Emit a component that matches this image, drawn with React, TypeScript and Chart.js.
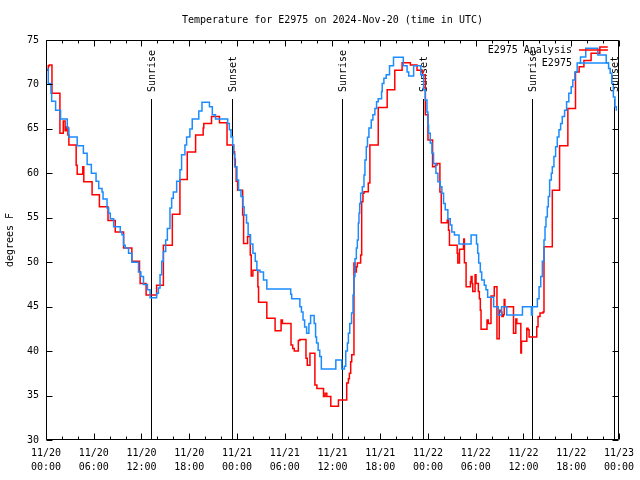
import React, { useEffect, useRef } from "react";
import { Chart, registerables } from "chart.js";

Chart.register(...registerables);

// ---------- data ----------
const titleText = "Temperature for E2975 on 2024-Nov-20 (time in UTC)";
const yAxisTitle = "degrees F";

const xTickHours = [0, 6, 12, 18, 24, 30, 36, 42, 48, 54, 60, 66, 72];
const xTickDates = ["11/20", "11/20", "11/20", "11/20", "11/21", "11/21", "11/21", "11/21", "11/22", "11/22", "11/22", "11/22", "11/23"];
const xTickTimes = ["00:00", "06:00", "12:00", "18:00", "00:00", "06:00", "12:00", "18:00", "00:00", "06:00", "12:00", "18:00", "00:00"];
const yTicks = [30, 35, 40, 45, 50, 55, 60, 65, 70, 75];

const sunLabels = ["Sunrise", "Sunset", "Sunrise", "Sunset", "Sunrise", "Sunset"];
const sunHours = [13.2, 23.42, 37.17, 47.375, 61.04, 71.33];

// E2975 observations (blue), hours since 11/20 00:00 UTC
const obsHours = [
  0, 0.29, 0.625, 0.71, 1.21, 1.83, 2.67, 2.875, 3.92, 4.7, 5.17, 5.7, 6.29, 6.625, 7.04, 7.17, 7.67, 7.875, 8.08, 8.5,
  9.33, 9.54, 9.75, 9.96, 10.375, 10.79, 11.625, 11.92, 12.25, 12.75, 13.08, 13.9, 14.125, 14.33, 14.54, 14.75, 15.04,
  15.25, 15.58, 15.79, 16.0, 16.42, 16.83, 17.04, 17.46, 17.67, 18.08, 18.375, 19.2, 19.6, 20.54, 20.9, 21.3, 22.83,
  23.04, 23.25, 23.46, 23.58, 23.7, 24.0, 24.2, 24.5, 24.75, 24.9, 25.2, 25.4, 25.7, 26.0, 26.3, 26.5, 26.9, 27.33,
  27.75, 30.75, 30.875, 31.9, 32.1, 32.3, 32.5, 32.75, 33.04, 33.25, 33.7, 33.875, 34.0, 34.2, 34.4, 34.6, 36.42,
  37.17, 37.5, 37.67, 37.875, 38.0, 38.17, 38.4, 38.58, 38.7, 38.83, 39.0, 39.125, 39.25, 39.33, 39.42, 39.54, 39.75,
  39.96, 40.08, 40.25, 40.4, 40.58, 40.875, 41.08, 41.33, 41.54, 41.75, 42.17, 42.25, 42.46, 42.75, 43.17, 43.67,
  44.9, 45.375, 45.58, 46.2, 47.1, 47.46, 47.67, 47.875, 48.0, 48.08, 48.29, 48.5, 48.7, 49.0, 49.25, 49.54, 49.75,
  49.96, 50.17, 50.5, 50.8, 51.0, 51.33, 51.9, 53.42, 54.1, 54.25, 54.375, 54.58, 54.75, 55.08, 55.29, 55.5, 56.25,
  56.83, 57.25, 57.9, 59.875, 61.0, 61.125, 61.75, 61.96, 62.17, 62.375, 62.58, 62.71, 62.83, 63.0, 63.125, 63.29,
  63.5, 63.625, 63.83, 64.04, 64.25, 64.46, 64.67, 64.875, 65.17, 65.42, 65.7, 66.0, 66.2, 66.46, 66.75, 67.17, 67.83,
  69.35, 70.4, 70.7, 70.9, 71.1, 71.3, 71.5, 71.67,
];
const obsTemps = [
  71.7, 70.1, 69.0, 68.1, 67.1, 66.1, 65.1, 64.1, 63.1, 62.25, 61.0, 60.0, 59.1, 58.3, 57.9, 57.1, 56.1, 55.5, 54.9, 54.0,
  53.4, 53.1, 51.9, 51.6, 51.0, 50.0, 48.9, 48.4, 47.5, 46.9, 46.0, 46.5, 47.1, 48.6, 50.1, 51.2, 52.5,
  53.8, 56.1, 57.2, 57.9, 59.1, 60.4, 62.1, 63.2, 64.1, 65.0, 66.1, 67.0, 68.0, 67.5, 66.6, 66.1, 65.6,
  64.9, 64.1, 63.2, 62.2, 60.75, 59.25, 58.1, 57.4, 56.25, 55.3, 54.4, 53.1, 52.05, 51.0, 50.1, 49.1, 48.9, 48.0,
  47.0, 46.4, 45.9, 45.0, 44.4, 43.5, 42.7, 42.0, 43.1, 44.0, 43.1, 41.6, 40.9, 40.1, 39.4, 38.0, 39.0,
  38.0, 38.3, 40.0, 40.9, 42.0, 43.1, 44.3, 46.3, 48.4, 50.4, 51.6, 52.5, 54.4, 55.5, 56.6, 57.75, 58.5,
  59.8, 61.5, 63.0, 64.05, 65.1, 66.0, 66.6, 67.3, 68.06, 68.4, 69.2, 70.1, 70.7, 71.1, 72.1, 73.05,
  72.1, 71.4, 70.95, 72.1, 71.1, 69.4, 68.25, 66.9, 65.4, 64.5, 63.4, 62.25, 61.1, 60.0, 59.06, 58.5, 57.75,
  56.6, 55.9, 54.9, 54.2, 53.4, 53.06, 52.05, 53.06, 52.05, 51.0, 49.9, 48.9, 48.0, 47.4, 46.9, 46.05, 45.0,
  44.06, 45.0, 44.06, 45.0, 44.06, 45.0, 45.9, 47.25, 48.4, 50.1, 52.5, 54.0, 55.1, 56.25, 57.4, 59.25,
  60.0, 60.75, 61.9, 63.0, 64.1, 64.9, 65.6, 66.4, 67.1, 68.06, 69.0, 69.75, 70.5, 71.4, 72.4, 73.1, 74.06,
  73.3, 72.45, 71.8, 71.25, 70.1, 68.6, 67.5, 67.05,
];

// E2975 Analysis (red)
const anaHours = [
  0, 0.29, 0.42, 0.75, 1.75, 2.17, 2.4, 2.55, 2.75, 2.875, 3.79, 3.92, 4.625, 4.75, 5.79, 6.71, 7.79, 8.7, 9.75, 10.79,
  11.75, 11.83, 12.58, 13.9, 14.75, 15.875, 16.83, 17.75, 18.8, 19.75, 19.83, 20.8, 21.8, 22.75, 23.58, 23.7, 23.79,
  23.9, 24.08, 24.71, 24.83, 25.33, 25.67, 25.79, 26.0, 26.625, 26.71, 27.75, 28.79, 29.54, 29.71, 30.79, 31.0, 31.2,
  31.71, 31.9, 32.67, 32.83, 33.17, 33.79, 34.04, 34.875, 35.08, 35.29, 35.79, 36.75, 37.79, 38.0, 38.125, 38.29,
  38.42, 38.7, 38.83, 39.0, 39.125, 39.54, 39.67, 39.83, 39.96, 40.5, 40.7, 41.75, 42.875, 43.83, 44.75, 45.79,
  46.625, 47.33, 47.67, 48.0, 48.58, 48.92, 49.125, 49.5, 49.67, 50.42, 50.58, 50.7, 51.67, 51.75, 51.96, 52.46,
  52.5, 52.58, 52.79, 53.33, 53.42, 53.54, 53.625, 53.92, 54.04, 54.33, 54.46, 54.58, 54.67, 55.42, 55.58, 55.92,
  56.33, 56.67, 56.96, 57.17, 57.29, 57.46, 57.58, 57.67, 58.75, 59.04, 59.17, 59.67, 59.75, 60.42, 60.58, 60.71,
  61.67, 61.83, 62.08, 62.46, 62.58, 63.625, 64.54, 65.58, 66.54, 67.0, 67.6, 68.5, 69.6, 70.6,
];
const anaTemps = [
  71.6, 72.1, 72.2, 69.0, 64.5, 65.9, 64.8, 65.2, 64.3, 63.2, 60.9, 59.9, 60.75, 59.06, 57.6, 56.25, 54.7, 53.4, 51.6, 50.1,
  48.9, 47.6, 46.3, 47.4, 51.9, 55.4, 59.3, 62.4, 64.3, 65.1, 65.6, 66.4, 65.7, 63.2, 62.44, 61.6, 60.75,
  59.1, 58.1, 55.3, 52.1, 52.9, 50.8, 48.45, 49.1, 47.25, 45.5, 43.7, 42.3, 43.5, 43.1, 40.7, 40.3, 40.0,
  41.2, 41.3, 39.2, 38.4, 39.75, 36.2, 35.8, 34.9, 35.25, 34.9, 33.8, 34.5, 36.4, 36.9, 37.5, 38.8,
  39.6, 49.9, 48.9, 49.5, 49.9, 50.8, 56.8, 57.75, 57.94, 58.9, 63.2, 67.4, 69.4, 71.6, 72.45, 72.2,
  71.6, 71.1, 66.6, 63.75, 60.75, 60.9, 61.1, 57.9, 54.45, 54.75, 53.6, 51.9, 51.0, 49.9, 51.45, 52.05,
  52.6, 49.95, 47.25, 47.8, 48.4, 47.6, 46.7, 48.6, 47.6, 46.7, 45.9, 44.6, 42.45, 43.5, 43.1, 46.2,
  47.25, 41.4, 44.6, 44.4, 43.9, 44.1, 45.8, 45.0, 42.0, 43.6, 43.1, 39.8, 41.1, 42.56, 42.4, 41.6,
  42.75, 43.9, 44.3, 44.4, 51.75, 58.1, 63.1, 67.3, 71.4, 72.0, 72.7, 73.5, 74.2, 74.2,
];

// ---------- styles ----------
const FONT = "'DejaVu Sans Mono', monospace";
const RED = "#ff0000";
const BLUE = "#1a8cff";
const SUN_LINE_TOP = 68.4;

const overlayPlugin = {
  id: "gnuplotOverlay",
  beforeDatasetsDraw(chart: any) {
    const { ctx, chartArea } = chart;
    const xs = chart.scales.x;
    const ys = chart.scales.y;
    ctx.save();
    ctx.strokeStyle = "#000";
    ctx.lineWidth = 1;
    ctx.fillStyle = "#000";
    ctx.font = `10px ${FONT}`;
    sunHours.forEach((h, i) => {
      const x = Math.round(xs.getPixelForValue(h)) + 0.5;
      const top = Math.round(ys.getPixelForValue(SUN_LINE_TOP));
      ctx.beginPath();
      ctx.moveTo(x, top);
      ctx.lineTo(x, chartArea.bottom);
      ctx.stroke();
      ctx.save();
      ctx.translate(x + 0.5, top - 7);
      ctx.rotate(-Math.PI / 2);
      ctx.textAlign = "left";
      ctx.textBaseline = "middle";
      ctx.fillText(sunLabels[i], 0, 0);
      ctx.restore();
    });
    ctx.restore();
  },
  afterDatasetsDraw(chart: any) {
    const { ctx, chartArea } = chart;
    const xs = chart.scales.x;
    const ys = chart.scales.y;
    const L = Math.round(chartArea.left) + 0.5;
    const R = Math.round(chartArea.right) - 0.5;
    const T = Math.round(chartArea.top) + 0.5;
    const B = Math.round(chartArea.bottom) - 0.5;
    ctx.save();
    ctx.strokeStyle = "#000";
    ctx.lineWidth = 1;
    ctx.beginPath();
    ctx.rect(L, T, R - L, B - T);
    ctx.stroke();
    // x ticks every 2 hours, major every 6
    ctx.beginPath();
    for (let h = 0; h <= 72; h += 2) {
      const x = Math.round(xs.getPixelForValue(h)) + 0.5;
      const len = h % 6 === 0 ? 6 : 3;
      ctx.moveTo(x, B);
      ctx.lineTo(x, B - len);
      ctx.moveTo(x, T);
      ctx.lineTo(x, T + len);
    }
    yTicks.forEach((v) => {
      const y = Math.round(ys.getPixelForValue(v)) + 0.5;
      ctx.moveTo(L, y);
      ctx.lineTo(L + 6, y);
      ctx.moveTo(R, y);
      ctx.lineTo(R - 6, y);
    });
    ctx.stroke();

    // legend
    ctx.font = `10px ${FONT}`;
    ctx.fillStyle = "#000";
    ctx.textAlign = "right";
    ctx.textBaseline = "middle";
    const textX = chartArea.right - 47;
    const lineX0 = chartArea.right - 40;
    const lineX1 = chartArea.right - 11;
    const entries = [
      { label: "E2975 Analysis", color: RED, y: chartArea.top + 10 },
      { label: "E2975", color: BLUE, y: chartArea.top + 23 },
    ];
    entries.forEach((e) => {
      ctx.fillText(e.label, textX, e.y);
      ctx.strokeStyle = e.color;
      ctx.lineWidth = 1.5;
      ctx.beginPath();
      ctx.moveTo(lineX0, e.y);
      ctx.lineTo(lineX1, e.y);
      ctx.stroke();
    });
    ctx.restore();
  },
};

export default function App() {
  const canvasRef = useRef<HTMLCanvasElement | null>(null);

  useEffect(() => {
    const canvas = canvasRef.current;
    if (!canvas) return;
    const obsPts = obsHours.map((h, i) => ({ x: h, y: obsTemps[i] }));
    const anaPts = anaHours.map((h, i) => ({ x: h, y: anaTemps[i] }));
    const tickFont = { family: FONT, size: 10, weight: "normal" as const };

    const chart = new Chart(canvas, {
      type: "line",
      data: {
        datasets: [
          {
            label: "E2975",
            data: obsPts,
            borderColor: BLUE,
            backgroundColor: BLUE,
            borderWidth: 1.5,
            stepped: "before",
            pointRadius: 0,
            fill: false,
          },
          {
            label: "E2975 Analysis",
            data: anaPts,
            borderColor: RED,
            backgroundColor: RED,
            borderWidth: 1.5,
            stepped: "before",
            pointRadius: 0,
            fill: false,
          },
        ],
      },
      options: {
        animation: false,
        responsive: false,
        devicePixelRatio: 1,
        events: [],
        layout: { padding: { left: 0, right: 18, top: 0, bottom: 0 } },
        plugins: {
          legend: { display: false },
          tooltip: { enabled: false },
          title: {
            display: true,
            text: titleText,
            color: "#000",
            fullSize: false,
            font: { family: FONT, size: 10, weight: "normal", lineHeight: 1.2 },
            padding: { top: 14, bottom: 14 },
          },
        },
        scales: {
          x: {
            type: "linear",
            min: 0,
            max: 72,
            afterBuildTicks: (s: any) => {
              s.ticks = xTickHours.map((v) => ({ value: v }));
            },
            afterFit: (s: any) => {
              s.height = 40;
            },
            ticks: {
              autoSkip: false,
              maxRotation: 0,
              minRotation: 0,
              color: "#000",
              padding: 6,
              font: { ...tickFont, lineHeight: 1.4 },
              callback: (_v: any, i: number) => [xTickDates[i], xTickTimes[i]],
            },
            grid: { display: false, drawTicks: false },
            border: { display: false },
          },
          y: {
            type: "linear",
            min: 30,
            max: 75,
            afterBuildTicks: (s: any) => {
              s.ticks = yTicks.map((v) => ({ value: v }));
            },
            afterFit: (s: any) => {
              s.width = 46;
            },
            ticks: {
              color: "#000",
              padding: 7,
              font: tickFont,
              callback: (_v: any, i: number) => String(yTicks[i]),
            },
            grid: { display: false, drawTicks: false },
            border: { display: false },
            title: {
              display: true,
              text: yAxisTitle,
              color: "#000",
              font: { family: FONT, size: 10, weight: "normal", lineHeight: 1.2 },
              padding: { top: 4, bottom: 0 },
            },
          },
        },
      },
      plugins: [overlayPlugin],
    } as any);

    return () => chart.destroy();
  }, []);

  return (
    <div style={{ position: "fixed", left: 0, top: 0, width: 640, height: 480, background: "#fff" }}>
      <canvas ref={canvasRef} width={640} height={480} style={{ display: "block" }} />
    </div>
  );
}
